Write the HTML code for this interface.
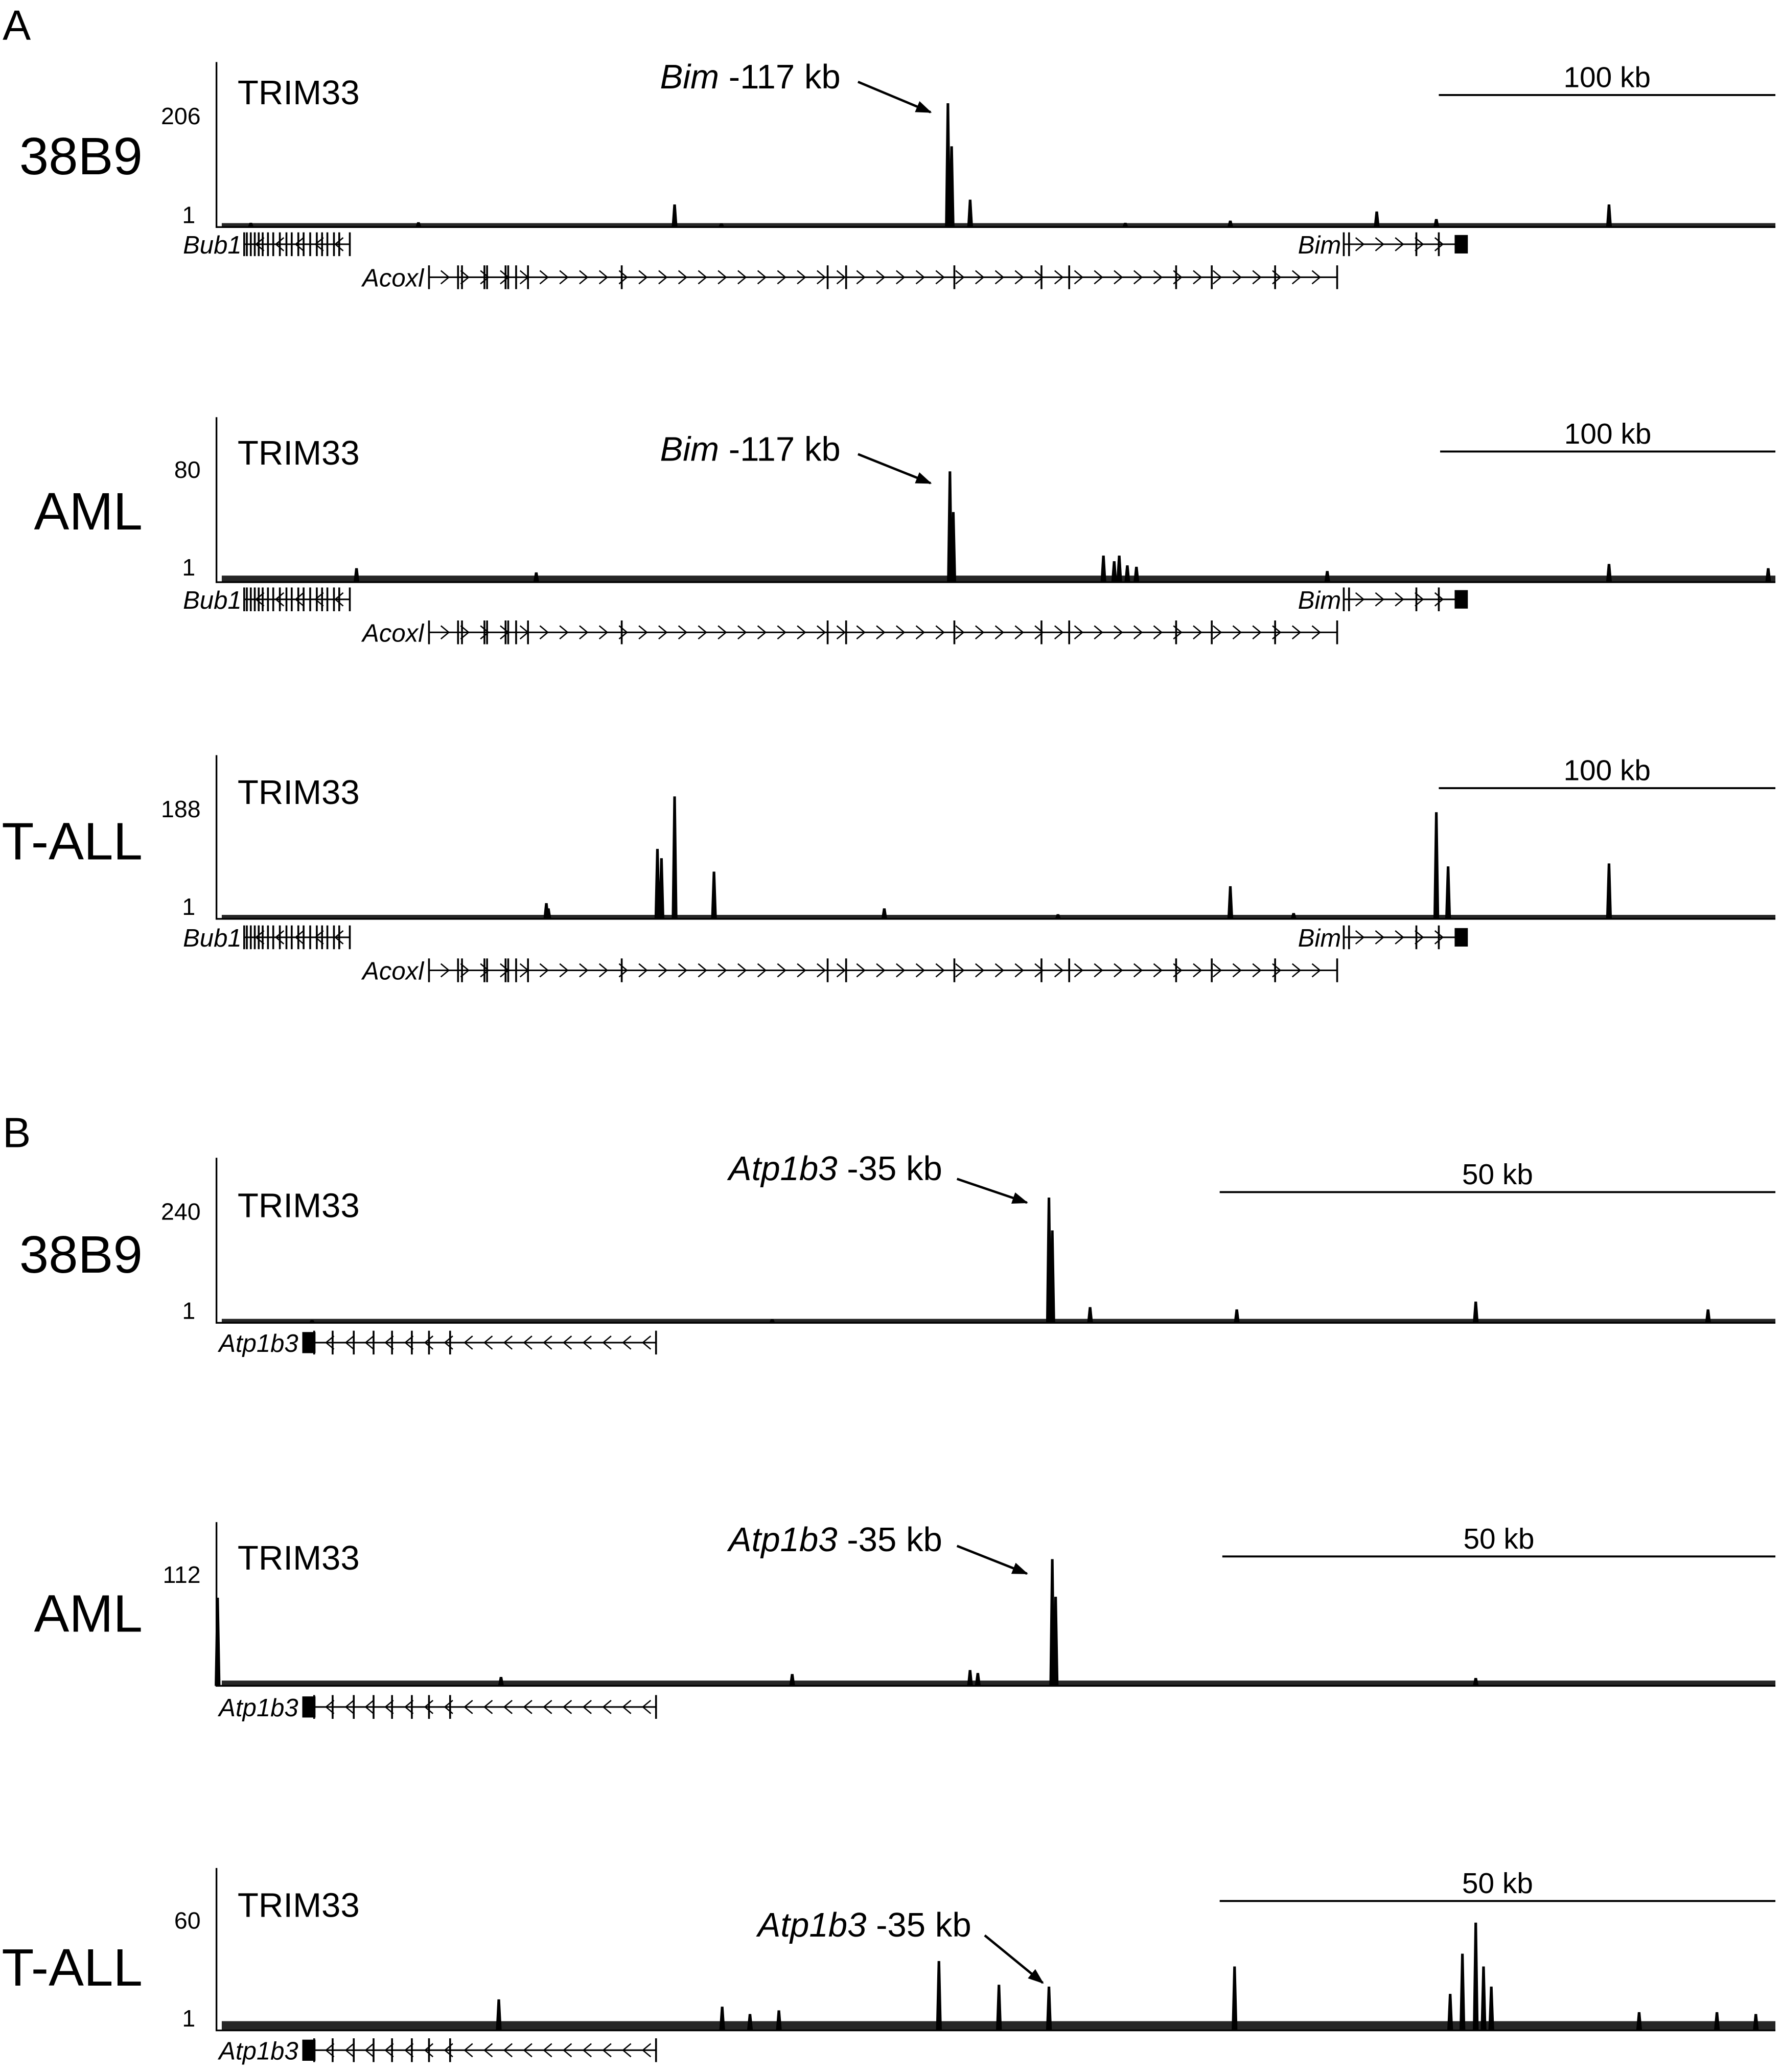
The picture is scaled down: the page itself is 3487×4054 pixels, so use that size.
<!DOCTYPE html>
<html><head><meta charset="utf-8">
<style>
html,body{margin:0;padding:0;background:#fff;}
svg{display:block;font-family:"Liberation Sans",Arial,sans-serif;}
</style></head>
<body>
<svg id="fig" width="3487" height="4054" viewBox="0 0 1350 1569.5" xmlns="http://www.w3.org/2000/svg"></svg>
<script>
// ---------- DATA ----------
const trackNames = ["38B9","AML","T-ALL","38B9","AML","T-ALL"];
const tickMax = [206, 80, 188, 240, 112, 60];
const tickMinLabel = ["1","1","1","1","","1"];
const scaleBarKb = [100,100,100,50,50,50];
const annotations = ["Bim|-117 kb","Bim|-117 kb","","Atp1b3|-35 kb","Atp1b3|-35 kb","Atp1b3|-35 kb"];
const bgLevel = [3, 5, 3, 3, 4, 7];

const peakPos0 = [136.1, 217.3, 218.4, 223.9, 301.2, 344.7, 362.4, 413.7, 10.2, 60, 150, 270];
const peakVal0 = [42, 230, 150, 51, 12, 29, 15, 42, 8, 9, 7, 8];
const peakPos1 = [217.9, 218.9, 263.5, 266.7, 268.2, 270.6, 273.3, 413.7, 41.6, 95, 330, 461];
const peakVal1 = [79, 50, 19, 15, 19, 12, 11, 13, 10, 7, 8, 10];
const peakPos2 = [131.0, 132.2, 136.1, 147.8, 98.0, 98.6, 198.4, 301.2, 362.4, 365.9, 413.7, 320, 250];
const peakVal2 = [120, 104, 210, 81, 27, 18, 18, 56, 183, 90, 95, 10, 8];
const peakPos3 = [74.9, 75.2, 78.6, 91.8, 113.3, 134.2, 50, 8.6];
const peakVal3 = [271, 200, 34, 29, 46, 29, 8, 6];
const peakPos4 = [0.1, 75.2, 75.5, 51.8, 67.8, 68.5, 25.6, 113.3];
const peakVal4 = [89, 128, 90, 12, 16, 13, 9, 8];
const peakPos5 = [65.0, 70.4, 74.9, 91.6, 113.3, 112.1, 114.0, 114.7, 111.0, 25.4, 45.5, 138.5, 48.0, 50.6, 128, 135];
const peakVal5 = [38, 25, 24, 35, 59, 42, 35, 24, 20, 17, 13, 9, 9, 11, 10, 10];

// ---------- LAYOUT ----------
const tracks = [
 {top:47, base:172, tickY:88, oneY:163, labY:118, trimY:70, barX:1090, barY:72, barTxtY:58, pxPerKb:2.55, annX:500, annY:58, arr:[650,62,705,85], gene:"A", geneY:185},
 {top:316, base:441, tickY:356, oneY:430, labY:387, trimY:343, barX:1091, barY:342, barTxtY:328, pxPerKb:2.55, annX:500, annY:340, arr:[650,344,705,366], gene:"A", geneY:454},
 {top:572, base:696, tickY:613, oneY:687, labY:637, trimY:600, barX:1090, barY:597, barTxtY:583, pxPerKb:2.55, gene:"A", geneY:710},
 {top:877, base:1002, tickY:918, oneY:993, labY:950, trimY:913, barX:924, barY:903, barTxtY:889, pxPerKb:8.42, annX:552, annY:885, arr:[725,893,778,911], gene:"B", geneY:1017},
 {top:1153, base:1277, tickY:1193, oneY:1268, labY:1222, trimY:1180, barX:926, barY:1179, barTxtY:1165, pxPerKb:8.42, annX:552, annY:1166, arr:[725,1171,778,1192], gene:"B", geneY:1293},
 {top:1415, base:1538, tickY:1455, oneY:1529, labY:1490, trimY:1443, barX:924, barY:1440, barTxtY:1426, pxPerKb:8.42, annX:574, annY:1458, arr:[746,1466,790,1502], gene:"B", geneY:1553}
];
const peaksP = [peakPos0,peakPos1,peakPos2,peakPos3,peakPos4,peakPos5];
const peaksV = [peakVal0,peakVal1,peakVal2,peakVal3,peakVal4,peakVal5];
const X0 = 164, X1 = 1345;
const NS = "http://www.w3.org/2000/svg";
const svg = document.getElementById("fig");
function mk(tag, attrs, parent, text){
  const e = document.createElementNS(NS, tag);
  for (const k in attrs) e.setAttribute(k, attrs[k]);
  if (text !== undefined) e.textContent = text;
  (parent||svg).appendChild(e);
  return e;
}
const defs = mk("defs",{});
const mkr = mk("marker",{id:"ah",markerWidth:"12",markerHeight:"9",refX:"11",refY:"4.5",orient:"auto",markerUnits:"userSpaceOnUse"},defs);
mk("path",{d:"M0,0 L12,4.5 L0,9 Z",fill:"#000"},mkr);

let t = mk("text",{x:2,y:30,"font-size":32});
t.textContent="A";


t = mk("text",{x:2,y:869,"font-size":32});
t.textContent="B";



function xScale(tr, kb){ return X0 + kb*tr.pxPerKb; }
function yScale(tr, v, max){ return tr.base - v/max*(tr.base - tr.tickY); }

tracks.forEach((tr,i)=>{
  const g = mk("g",{});
  
  
  let e = mk("text",{x:108,y:tr.labY+14,"font-size":40,"text-anchor":"end"},g,trackNames[i]);
  
  
  e = mk("text",{x:180,y:tr.trimY+9,"font-size":26},g,"TRIM33");
  
  
  e = mk("path",{d:`M${X0},${tr.top} L${X0},${tr.base} L${X1},${tr.base}`,stroke:"#000","stroke-width":1.3,fill:"none"},g);
  
  
  e = mk("text",{x:152,y:tr.tickY+6,"font-size":18,"text-anchor":"end"},g,String(tickMax[i]));
  
  
  if (tickMinLabel[i]) {
    e = mk("text",{x:148,y:tr.oneY+6,"font-size":18,"text-anchor":"end"},g,tickMinLabel[i]);
    
    
  }
  const bx2 = tr.barX + scaleBarKb[i]*tr.pxPerKb;
  e = mk("line",{x1:tr.barX,y1:tr.barY,x2:Math.min(bx2,X1),y2:tr.barY,stroke:"#000","stroke-width":1.5},g);
  
  
  e = mk("text",{x:(tr.barX+Math.min(bx2,X1))/2,y:tr.barTxtY+8,"font-size":22,"text-anchor":"middle"},g,scaleBarKb[i]+" kb");
  
  
  e = mk("rect",{x:X0+4,y:tr.base-bgLevel[i],width:X1-X0-4,height:bgLevel[i],fill:"#000","fill-opacity":0.85},g);
  
  
  peaksP[i].forEach((p,j)=>{
    const x = xScale(tr,p), y = yScale(tr,peaksV[i][j],tickMax[i]);
    const pk = mk("polygon",{points:`${x-2.2},${tr.base} ${x-1},${y} ${x+1},${y} ${x+2.2},${tr.base}`,fill:"#000"},g);
    
    
  });
  if (annotations[i]) {
    const [gn, rest] = annotations[i].split("|");
    e = mk("text",{x:tr.annX,y:tr.annY+9,"font-size":26},g);
    
    
    mk("tspan",{"font-style":"italic"},e,gn);
    mk("tspan",{},e," "+rest);
    const a = tr.arr;
    e = mk("line",{x1:a[0],y1:a[1],x2:a[2],y2:a[3],stroke:"#000","stroke-width":1.8,"marker-end":"url(#ah)"},g);
    
    
  }
  drawGenes(tr, g);
});

function geneLine(g, x1, x2, y, dir, ticks, name, labelX, extra){
  const gg = mk("g",{},g);
  
  
  mk("line",{x1:x1,y1:y,x2:x2,y2:y,stroke:"#000","stroke-width":1.2},gg);
  ticks.forEach(tx=>mk("line",{x1:tx,y1:y-9,x2:tx,y2:y+9,stroke:"#000","stroke-width":1.4},gg));
  for (let x=x1+12; x<x2-4; x+=15){
    const d = dir>0 ? `M${x-3},${y-5} L${x+3},${y} L${x-3},${y+5}` : `M${x+3},${y-5} L${x-3},${y} L${x+3},${y+5}`;
    mk("path",{d:d,stroke:"#000","stroke-width":1,fill:"none"},gg);
  }
  if (extra) extra(gg);
  mk("text",{x:labelX,y:y+7,"font-size":19,"font-style":"italic","text-anchor":"end"},gg,name);
}
function drawGenes(tr, g){
  const y = tr.geneY;
  if (tr.gene==="A"){
    const bub=[185,187,190,193,196,199,203,207,212,217,221,226,230,235,240,244,248,253,257,265];
    geneLine(g,185,265,y,-1,bub,"Bub1",183);
    const ac=[325,347,350,367,369,383,385,391,400,471,627,641,723,789,810,891,918,966,1013];
    geneLine(g,325,1013,y+25,1,ac,"Acoxl",321);
    geneLine(g,1018,1104,y,1,[1018,1022,1073,1090],"Bim",1016,(gg)=>mk("rect",{x:1102,y:y-7,width:10,height:14,fill:"#000"},gg));
  } else {
    const at=[238,252,268,283,297,312,325,341,497];
    geneLine(g,238,497,y,-1,at,"Atp1b3",226,(gg)=>mk("rect",{x:229,y:y-8,width:10,height:16,fill:"#000"},gg));
  }
}
</script>
</body></html>
